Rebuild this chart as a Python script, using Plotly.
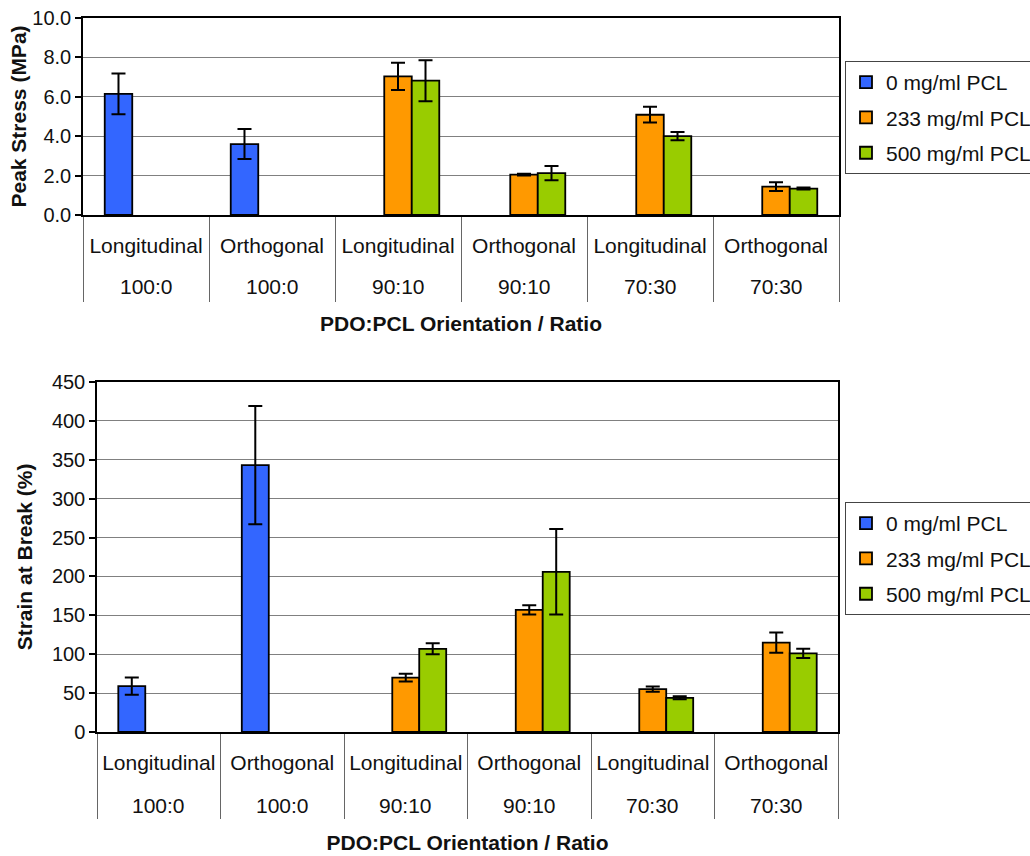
import plotly.graph_objects as go

# ---- data -------------------------------------------------------------
orientation = ["Longitudinal", "Orthogonal", "Longitudinal", "Orthogonal", "Longitudinal", "Orthogonal"]
ratio = ["100:0", "100:0", "90:10", "90:10", "70:30", "70:30"]
series_names = ["0 mg/ml PCL", "233 mg/ml PCL", "500 mg/ml PCL"]

# Peak stress (MPa), mean and error
stress_0 = [6.15, 3.60, None, None, None, None]
stress_0_err = [1.03, 0.76, None, None, None, None]
stress_233 = [None, None, 7.04, 2.05, 5.09, 1.44]
stress_233_err = [None, None, 0.69, 0.05, 0.40, 0.22]
stress_500 = [None, None, 6.82, 2.13, 4.00, 1.34]
stress_500_err = [None, None, 1.04, 0.36, 0.21, 0.05]

# Strain at break (%), mean and error
strain_0 = [59, 343, None, None, None, None]
strain_0_err = [11, 76, None, None, None, None]
strain_233 = [None, None, 70, 157, 55, 115]
strain_233_err = [None, None, 5, 6, 3.4, 13]
strain_500 = [None, None, 107, 206, 44, 101]
strain_500_err = [None, None, 7, 55, 2, 6]

colors = ["#3366FF", "#FF9900", "#99CC00"]

# ---- layout constants -------------------------------------------------
W, H = 1030, 856
FONT = "Liberation Sans, Arial, sans-serif"
TXT = "#111111"

cats = [f"{o} {r}" for o, r in zip(orientation, ratio)]

fig = go.Figure()

panels = [
    dict(xa="x", ya="y", legend="legend",
         vals=[stress_0, stress_233, stress_500],
         errs=[stress_0_err, stress_233_err, stress_500_err]),
    dict(xa="x2", ya="y2", legend="legend2",
         vals=[strain_0, strain_233, strain_500],
         errs=[strain_0_err, strain_233_err, strain_500_err]),
]

for p in panels:
    for name, v, e, c in zip(series_names, p["vals"], p["errs"], colors):
        fig.add_trace(go.Bar(
            x=cats, y=v, name=name, xaxis=p["xa"], yaxis=p["ya"],
            legend=p["legend"], legendgroup=p["legend"] + name,
            marker=dict(color=c, line=dict(color="black", width=1.8)),
            error_y=dict(type="data", array=e, visible=True, color="black",
                         thickness=2, width=7),
        ))


def px_x(v):
    return v / W


def px_y(v):
    return 1 - v / H


# plot rectangles in pixels: (left, top, right, bottom)
top_box = (83, 18, 839, 215)
bot_box = (97, 382, 838, 732)

axis_common = dict(
    showline=True, linecolor="black", linewidth=1.5, mirror=True,
    tickfont=dict(family=FONT, size=20, color=TXT),
)

xcommon = dict(
    axis_common, type="category", categoryorder="array", categoryarray=cats,
    tickvals=cats, ticktext=orientation,
    ticks="outside", tickson="boundaries", ticklen=85, tickwidth=1,
    tickcolor="#666666", ticklabelstandoff=11, showgrid=False,
    tickfont=dict(family=FONT, size=21, color=TXT),
)

ycommon = dict(
    axis_common, ticks="outside", ticklen=6, tickcolor="black", tickwidth=1.5,
    showgrid=True, gridcolor="#808080", gridwidth=1.3, zeroline=False,
)


def xtitle(standoff):
    return dict(text="<b>PDO:PCL Orientation / Ratio</b>",
                font=dict(family=FONT, size=21, color=TXT), standoff=standoff)


fig.update_layout(
    width=W, height=H,
    margin=dict(l=0, r=0, t=0, b=0, autoexpand=False),
    paper_bgcolor="white", plot_bgcolor="white",
    barmode="group", bargap=0.345, bargroupgap=0,
    font=dict(family=FONT, color=TXT),
    xaxis=dict(xcommon, domain=[px_x(top_box[0]), px_x(top_box[2])], anchor="y",
               title=xtitle(60)),
    yaxis=dict(ycommon, domain=[px_y(top_box[3]), px_y(top_box[1])], anchor="x",
               range=[0, 10], dtick=2, tickformat=".1f",
               title=dict(text="<b>Peak Stress (MPa)</b>",
                          font=dict(family=FONT, size=21, color=TXT), standoff=0)),
    xaxis2=dict(xcommon, domain=[px_x(bot_box[0]), px_x(bot_box[2])], anchor="y2",
                title=xtitle(62)),
    yaxis2=dict(ycommon, domain=[px_y(bot_box[3]), px_y(bot_box[1])], anchor="x2",
                range=[0, 450], dtick=50,
                title=dict(text="<b>Strain at Break (%)</b>",
                           font=dict(family=FONT, size=21, color=TXT), standoff=14)),
)

legend_style = dict(
    xanchor="left", yanchor="top", bgcolor="white",
    bordercolor="#444444", borderwidth=1,
    font=dict(family=FONT, size=21, color=TXT),
    traceorder="grouped", tracegroupgap=5,
)
fig.update_layout(
    legend=dict(legend_style, x=px_x(845), y=px_y(61)),
    legend2=dict(legend_style, x=px_x(845), y=px_y(502)),
)

# second row of category labels (PDO:PCL ratio)
for xa, box, off in (("x", top_box, 71), ("x2", bot_box, 73)):
    for key, r in zip(cats, ratio):
        fig.add_annotation(
            x=key, xref=xa, y=px_y(box[3] + off), yref="paper",
            text=r, showarrow=False, yanchor="middle", xanchor="center",
            font=dict(family=FONT, size=21, color=TXT),
        )

fig.write_html("out.html")
